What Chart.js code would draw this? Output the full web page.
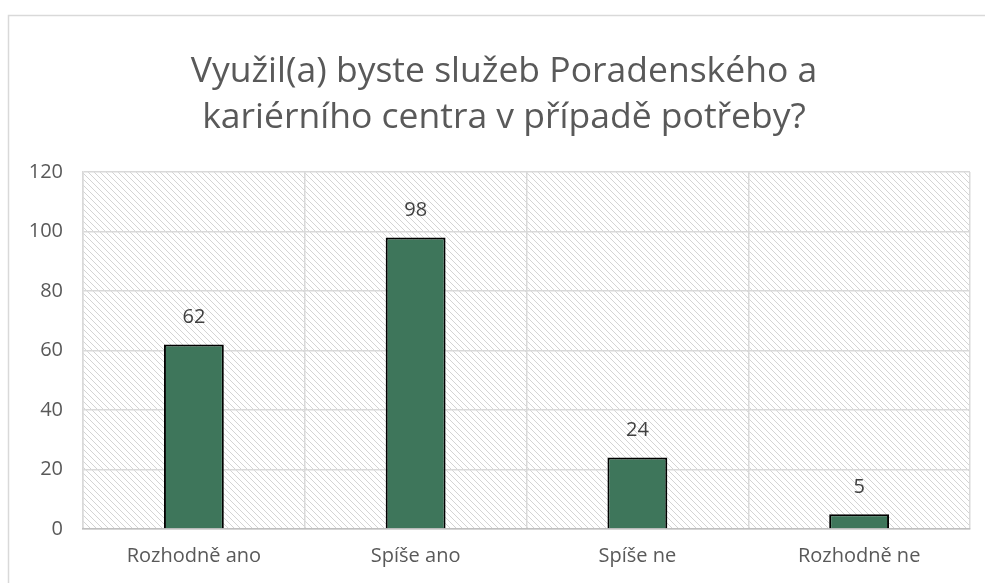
<!DOCTYPE html>
<html>
<head>
<meta charset="utf-8">
<script src="https://cdn.jsdelivr.net/npm/chart.js@4"></script>
<style>
  html, body { margin: 0; padding: 0; background: #fff; }
  #wrap { width: 985px; height: 583px; position: relative; }
</style>
</head>
<body>
<div id="wrap"><canvas id="c" width="985" height="583"></canvas></div>
<script>
const labels = ["Rozhodně ano", "Spíše ano", "Spíše ne", "Rozhodně ne"];
const values = [62, 98, 24, 5];
const titleLines = ["Využil(a) byste služeb Poradenského a", "kariérního centra v případě potřeby?"];

// diagonal hatch for the plot area
function hatch() {
    const t = document.createElement("canvas");
    t.width = 6; t.height = 6;
    const g = t.getContext("2d");
    g.strokeStyle = "#d4d4d4";
    g.lineWidth = 1;
    g.beginPath();
    g.moveTo(0, 0); g.lineTo(6, 6);
    g.moveTo(-1, 5); g.lineTo(1, 7);
    g.moveTo(5, -1); g.lineTo(7, 1);
    g.stroke();
    return g.createPattern(t, "repeat");
}

const bgPlugin = {
    id: "bg",
    beforeDraw(chart) {
        const ctx = chart.ctx, a = chart.chartArea;
        ctx.save();
        // outer frame
        ctx.strokeStyle = "#d9d9d9";
        ctx.lineWidth = 1.5;
        ctx.beginPath();
        ctx.moveTo(8.5, 583);
        ctx.lineTo(8.5, 15.5);
        ctx.lineTo(985, 15.5);
        ctx.stroke();
        ctx.fillStyle = hatch();
        ctx.fillRect(a.left, a.top, a.right - a.left, a.bottom - a.top);
        // title, centred on the whole chart frame like the original
        ctx.fillStyle = "#595959";
        ctx.font = "35.5px 'Open Sans', sans-serif";
        ctx.textAlign = "center";
        ctx.textBaseline = "middle";
        titleLines.forEach((t, i) => ctx.fillText(t, 504, 72 + i * 46));
        ctx.restore();
    }
};

const valuePlugin = {
    id: "values",
    afterDatasetsDraw(chart) {
        const ctx = chart.ctx;
        const meta = chart.getDatasetMeta(0);
        ctx.save();
        ctx.fillStyle = "#404040";
        ctx.font = "20px 'Open Sans', sans-serif";
        ctx.textAlign = "center";
        ctx.textBaseline = "middle";
        meta.data.forEach((bar, i) => {
            ctx.fillText(values[i], bar.x, bar.y - 27);
        });
        ctx.restore();
    }
};

new Chart(document.getElementById("c"), {
    type: "bar",
    data: {
        labels: labels,
        datasets: [{
            data: values,
            backgroundColor: "#3e765b",
            borderColor: "#000",
            borderWidth: 2,
            categoryPercentage: 1,
            barPercentage: 0.27
        }]
    },
    options: {
        responsive: false,
        animation: false,
        layout: { padding: { left: 10, right: 15, top: 172, bottom: 0 } },
        plugins: {
            legend: { display: false },
            tooltip: { enabled: false },
            title: { display: false }
        },
        scales: {
            y: {
                min: 0, max: 120,
                ticks: { stepSize: 20, color: "#595959", font: { family: "'Open Sans', sans-serif", size: 20 }, padding: 20 },
                grid: { color: "#d9d9d9", lineWidth: 1.5, drawTicks: false },
                border: { display: true, color: "#d9d9d9", width: 1.5 },
                afterFit(s) { s.width = 73; }
            },
            x: {
                ticks: { color: "#595959", font: { family: "'Open Sans', sans-serif", size: 20 }, padding: 15 },
                grid: { color: "#d9d9d9", lineWidth: 1.5, drawTicks: false, offset: true },
                border: { display: true, color: "#bfbfbf", width: 1.5 },
                afterFit(s) { s.height = 54; }
            }
        }
    },
    plugins: [bgPlugin, valuePlugin]
});
</script>
</body>
</html>
